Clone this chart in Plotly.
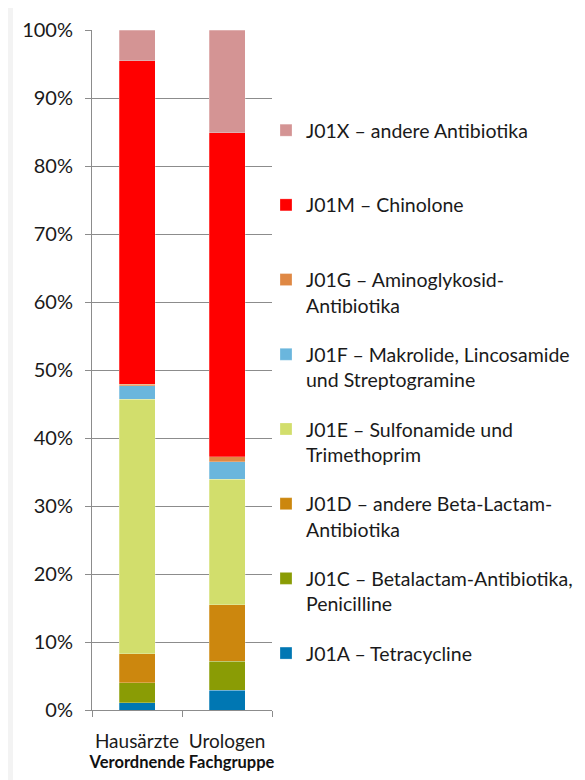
import plotly.graph_objects as go

categories = ["Hausärzte", "Urologen"]

series_names = [
    "J01A – Tetracycline",
    "J01C – Betalactam-Antibiotika,<br>Penicilline",
    "J01D – andere Beta-Lactam-<br>Antibiotika",
    "J01E – Sulfonamide und<br>Trimethoprim",
    "J01F – Makrolide, Lincosamide<br>und Streptogramine",
    "J01G – Aminoglykosid-<br>Antibiotika",
    "J01M – Chinolone",
    "J01X – andere Antibiotika",
]

# shares in percent (Hausärzte, Urologen)
j01a = [1.1, 2.9]
j01c = [2.9, 4.3]
j01d = [4.3, 8.3]
j01e = [37.4, 18.4]
j01f = [2.0, 2.6]
j01g = [0.2, 0.75]
j01m = [47.6, 47.65]
j01x = [4.5, 15.1]

series_values = [j01a, j01c, j01d, j01e, j01f, j01g, j01m, j01x]

colors = ["#0077B3", "#8A9C05", "#CC870E", "#D2DE6C", "#6AB6DD",
          "#DF8844", "#FF0000", "#D49494"]

y_tickvals = [0, 10, 20, 30, 40, 50, 60, 70, 80, 90, 100]
y_ticktext = [f"{v}%" for v in y_tickvals]

FONT = "Lato"
TXT = "#1a1a1a"

fig = go.Figure()
n = len(series_names)
for i, (name, vals, col) in enumerate(zip(series_names, series_values, colors)):
    label = name if "<br>" in name else name + "<br> "
    fig.add_trace(go.Bar(
        x=categories, y=vals, name=label,
        marker=dict(color=col, line=dict(color="rgba(255,255,255,0.5)", width=0.5)),
        legendgroup=f"g{i}",
        legendrank=n - i,
        hoverinfo="skip",
    ))

# figure is placed 8px from the page's top-left corner
W, H = 577, 772
L, R, T, B = 84, 313, 22, 70
pw = W - L - R
ph = H - T - B

def px_x(px):
    return (px - L) / pw

def px_y(py):
    return (H - B - py) / ph

shapes = [
    dict(type="rect", xref="paper", yref="paper", x0=px_x(0), x1=px_x(5),
         y0=px_y(H), y1=px_y(0), fillcolor="#f3f3f3", line_width=0, layer="below"),
]

fig.update_layout(
    width=W, height=H,
    margin=dict(l=L, r=R, t=T, b=B, pad=0, autoexpand=False),
    barmode="stack",
    bargap=0.6,
    paper_bgcolor="white",
    plot_bgcolor="white",
    font=dict(family=FONT, size=20, color=TXT),
    showlegend=True,
    legend=dict(
        x=px_x(258), xanchor="left",
        y=px_y(103), yanchor="top",
        traceorder="grouped",
        tracegroupgap=21,
        valign="top",
        font=dict(family=FONT, size=19.5, color=TXT),
        bgcolor="rgba(0,0,0,0)",
    ),
    xaxis=dict(
        showline=True, linecolor="#8c8c8c", linewidth=1,
        ticks="outside", tickson="boundaries", ticklen=6, tickcolor="#8c8c8c",
        showgrid=False,
        tickangle=0,
        automargin=False,
        tickfont=dict(family=FONT, size=19, color=TXT),
        ticklabelstandoff=14,
        title=dict(text="<b>Verordnende Fachgruppe</b>", standoff=2,
                   font=dict(family=FONT, size=16.5, color="#111111")),
    ),
    yaxis=dict(
        range=[0, 100],
        tickvals=y_tickvals, ticktext=y_ticktext,
        showline=True, linecolor="#8c8c8c", linewidth=1,
        ticks="outside", ticklen=6, tickcolor="#8c8c8c",
        showgrid=True, gridcolor="#8c8c8c", gridwidth=1,
        zeroline=False,
        automargin=False,
        tickfont=dict(family=FONT, size=20, color=TXT),
        ticklabelstandoff=8,
    ),
    shapes=shapes,
)

fig.write_html("out.html")
